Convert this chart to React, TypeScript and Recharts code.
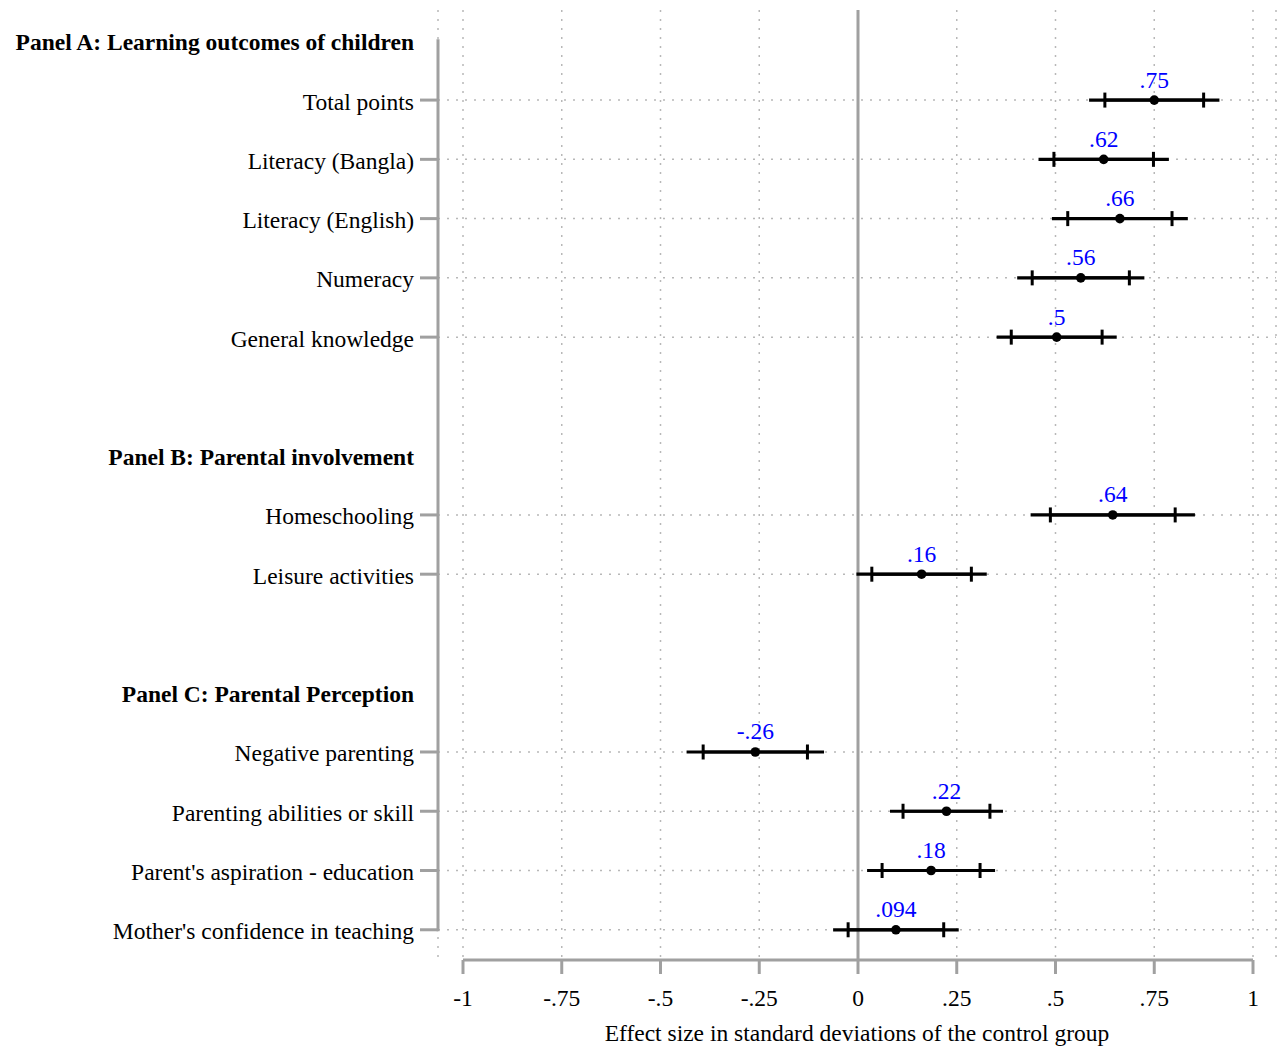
import React from 'react';
import {
  ScatterChart,
  Scatter,
  XAxis,
  YAxis,
  CartesianGrid,
  ReferenceLine,
  ErrorBar,
  LabelList,
} from 'recharts';

// ---------- data ----------
const rowLabels = [
  'Panel A: Learning outcomes of children',
  'Total points',
  'Literacy (Bangla)',
  'Literacy (English)',
  'Numeracy',
  'General knowledge',
  '',
  'Panel B: Parental involvement',
  'Homeschooling',
  'Leisure activities',
  '',
  'Panel C: Parental Perception',
  'Negative parenting',
  'Parenting abilities or skill',
  "Parent's aspiration - education",
  "Mother's confidence in teaching",
];
const headerRows = [0, 7, 11];
const itemRows = [1, 2, 3, 4, 5, 8, 9, 12, 13, 14, 15];
const estimates = [0.75, 0.622, 0.663, 0.564, 0.503, 0.645, 0.161, -0.26, 0.224, 0.185, 0.096];
const ciOuterHalf = [0.165, 0.165, 0.172, 0.161, 0.152, 0.208, 0.165, 0.174, 0.143, 0.162, 0.159];
const ciInnerHalf = [0.125, 0.126, 0.132, 0.123, 0.115, 0.158, 0.126, 0.132, 0.11, 0.124, 0.121];
const valueLabels = ['.75', '.62', '.66', '.56', '.5', '.64', '.16', '-.26', '.22', '.18', '.094'];
const xTicks = [-1, -0.75, -0.5, -0.25, 0, 0.25, 0.5, 0.75, 1];
const xTickLabels = ['-1', '-.75', '-.5', '-.25', '0', '.25', '.5', '.75', '1'];
const yTicks = rowLabels.map((_, i) => i);
const xTitle = 'Effect size in standard deviations of the control group';

const points = itemRows.map((row, i) => ({
  x: estimates[i],
  y: row,
  outer: ciOuterHalf[i],
  inner: ciInnerHalf[i],
  label: valueLabels[i],
}));

// ---------- style ----------
const FONT = '"Liberation Serif", "Times New Roman", serif';
const FS = 23.5;
const GRAY = '#a0a0a0';
const DOT = '#b8b8b8';
const PAD_LEFT = 25;
const PAD_RIGHT = 23;
const Y_TICK_SIZE = 18;
const Y_TICK_MARGIN = 6;
const Y_MIN = -0.52;
const Y_MAX = 15.51;

const YTick = (props: any) => {
  const { x, y, payload } = props;
  const row = Math.round(payload.value);
  const text = rowLabels[row];
  if (!text) return <g />;
  const isHeader = headerRows.includes(row);
  return (
    <g>
      {!isHeader && (
        <line
          x1={x + Y_TICK_MARGIN}
          x2={x + Y_TICK_MARGIN + Y_TICK_SIZE}
          y1={y}
          y2={y}
          stroke={GRAY}
          strokeWidth={3}
        />
      )}
      <text
        x={x}
        y={y}
        dy={9.5}
        textAnchor="end"
        fontFamily={FONT}
        fontSize={FS}
        fontWeight={isHeader ? 'bold' : 'normal'}
        fill="#000"
      >
        {text}
      </text>
    </g>
  );
};

const YAxisLineShape = (props: any) => {
  const { x1, y1, x2, y2 } = props;
  if (x1 == null) return <g />;
  return (
    <line
      x1={x1 - PAD_LEFT}
      x2={x2 - PAD_LEFT}
      y1={y1 - 1.5}
      y2={y2 + 1.5}
      stroke={GRAY}
      strokeWidth={3}
    />
  );
};

const Dot = (props: any) => {
  const { cx, cy } = props;
  if (cx == null || cy == null) return <g />;
  return <circle cx={cx} cy={cy} r={4.8} fill="#000" />;
};

export default function App() {
  return (
    <div style={{ position: 'absolute', left: 0, top: 0, background: '#fff' }}>
      <ScatterChart
        width={1279}
        height={1050}
        margin={{ top: 10, right: 3, bottom: 0, left: 0 }}
      >
        <CartesianGrid
          vertical={true}
          horizontal={false}
          stroke={DOT}
          strokeDasharray="2 7"
          strokeWidth={1.5}
        />
        <XAxis
          type="number"
          dataKey="x"
          domain={[-1, 1]}
          ticks={xTicks}
          allowDataOverflow
          padding={{ left: PAD_LEFT, right: PAD_RIGHT }}
          axisLine={false}
          tickLine={{ stroke: GRAY, strokeWidth: 3 }}
          tickSize={14}
          tickMargin={15}
          tickFormatter={(v: number) => xTickLabels[xTicks.indexOf(v)] ?? String(v)}
          tick={{ fontSize: FS, fill: '#000', fontFamily: FONT }}
          height={90}
          label={{
            value: xTitle,
            position: 'insideBottom',
            offset: 9,
            fontSize: FS,
            fill: '#000',
            fontFamily: FONT,
          }}
        />
        <YAxis
          type="number"
          dataKey="y"
          domain={[Y_MIN, Y_MAX]}
          reversed
          ticks={yTicks}
          interval={0}
          allowDataOverflow
          width={438}
          axisLine={false}
          tickLine={false}
          tickSize={Y_TICK_SIZE}
          tickMargin={Y_TICK_MARGIN}
          tick={<YTick />}
        />
        {itemRows.map((r) => (
          <ReferenceLine
            key={'h' + r}
            y={r}
            stroke={DOT}
            strokeDasharray="2 7"
            strokeWidth={1.5}
          />
        ))}
        <ReferenceLine x={0} stroke={GRAY} strokeWidth={3} />
        <ReferenceLine
          segment={[
            { x: -1, y: Y_MAX },
            { x: 1, y: Y_MAX },
          ]}
          stroke={GRAY}
          strokeWidth={3}
        />
        <ReferenceLine
          segment={[
            { x: -1, y: 0 },
            { x: -1, y: 15 },
          ]}
          stroke={GRAY}
          strokeWidth={3}
          shape={<YAxisLineShape />}
        />
        <Scatter data={points} fill="#000" shape={<Dot />} isAnimationActive={false}>
          <ErrorBar
            dataKey="outer"
            direction="x"
            width={0}
            stroke="#000"
            strokeWidth={3.2}
            isAnimationActive={false}
          />
          <ErrorBar
            dataKey="inner"
            direction="x"
            width={7.5}
            stroke="#000"
            strokeWidth={3}
            isAnimationActive={false}
          />
          <LabelList
            dataKey="label"
            position="top"
            offset={8}
            fill="#0000ff"
            fontSize={FS}
            fontFamily={FONT}
          />
        </Scatter>
      </ScatterChart>
    </div>
  );
}
